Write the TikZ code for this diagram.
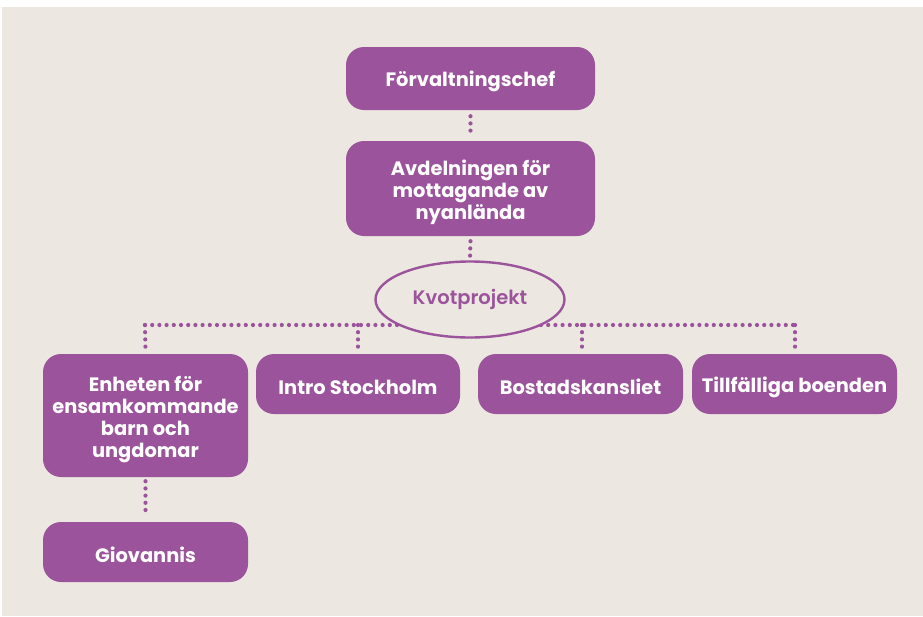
\documentclass[tikz,border=0pt]{standalone}
\usepackage{fontspec}
\setmainfont{Poppins}[UprightFont=* SemiBold, BoldFont=* Bold]
\usetikzlibrary{calc,shapes.geometric}
\definecolor{bgc}{HTML}{ECE7E0}
\definecolor{purp}{HTML}{9B539B}
\begin{document}
\begin{tikzpicture}[x=1pt,y=-1pt,
  box/.style={fill=purp, rounded corners=18pt, inner sep=0pt},
  boxtext/.style={text=white, font=\fontsize{19.4}{22}\selectfont\bfseries, align=center, inner sep=0pt},
  dotline/.style={draw=purp, line width=4.2pt, line cap=round, dash pattern=on 0pt off 7.2pt},
]
\useasboundingbox (0,0) rectangle (923,616);
\fill[bgc] (2,7) rectangle (923,616);
\node[box, minimum width=249pt, minimum height=63pt] (f) at (470.5,78.5) {};
\node[boxtext] (ft) at ($(f.center)+(0,3)$) {Förvaltningschef};
\node[box, minimum width=249pt, minimum height=95pt] (a) at (470.5,188.5) {};
\node[boxtext] (at) at ($(a.center)+(0,4)$) {Avdelningen för\\mottagande av\\nyanlända};
\node[box, minimum width=205pt, minimum height=123pt] (e) at (145.5,415.5) {};
\node[boxtext] (et) at ($(e.center)+(0,4)$) {Enheten för\\ensamkommande\\barn och\\ungdomar};
\node[box, minimum width=204pt, minimum height=60pt] (i) at (358,384) {};
\node[boxtext] (it) at ($(i.center)+(0,3)$) {Intro Stockholm};
\node[box, minimum width=205pt, minimum height=60pt] (b) at (580.5,384) {};
\node[boxtext] (bt) at ($(b.center)+(0,3)$) {Bostadskansliet};
\node[box, minimum width=205pt, minimum height=60pt] (t) at (794.5,384) {};
\node[boxtext] (tt) at ($(t.center)+(0,3)$) {Tillfälliga boenden};
\node[box, minimum width=205pt, minimum height=60pt] (g) at (145.5,552) {};
\node[boxtext] (gt) at ($(g.center)+(0,3)$) {Giovannis};
\coordinate (hl) at (145,325);
\coordinate (hr) at (795,325);
\draw[dotline] ($(f.south)+(0,6)$) -- ($(a.north)+(0,-5)$);
\draw[dotline] (hl) -- (hr);
\draw[dotline] (hl) -- ($(e.north)+(0,-3)$);
\draw[dotline] (i.north |- hl) -- ($(i.north)+(0,-3)$);
\draw[dotline] (582,325) -- ($(b.north)+(1.5,-3)$);
\draw[dotline] (hr) -- ($(t.north)+(0.5,-3)$);
\draw[dotline] ($(e.south)+(0,4)$) -- ($(g.north)+(0,-5)$);
\node[ellipse, draw=purp, line width=2.4pt, fill=bgc, minimum width=189pt, minimum height=76pt, text=purp, font=\fontsize{19.5}{22}\selectfont] (k) at (470,299.5) {Kvotprojekt};
\draw[dotline] ($(a.south)+(0,5)$) -- ($(k.north)+(0,-3)$);
\end{tikzpicture}
\end{document}
